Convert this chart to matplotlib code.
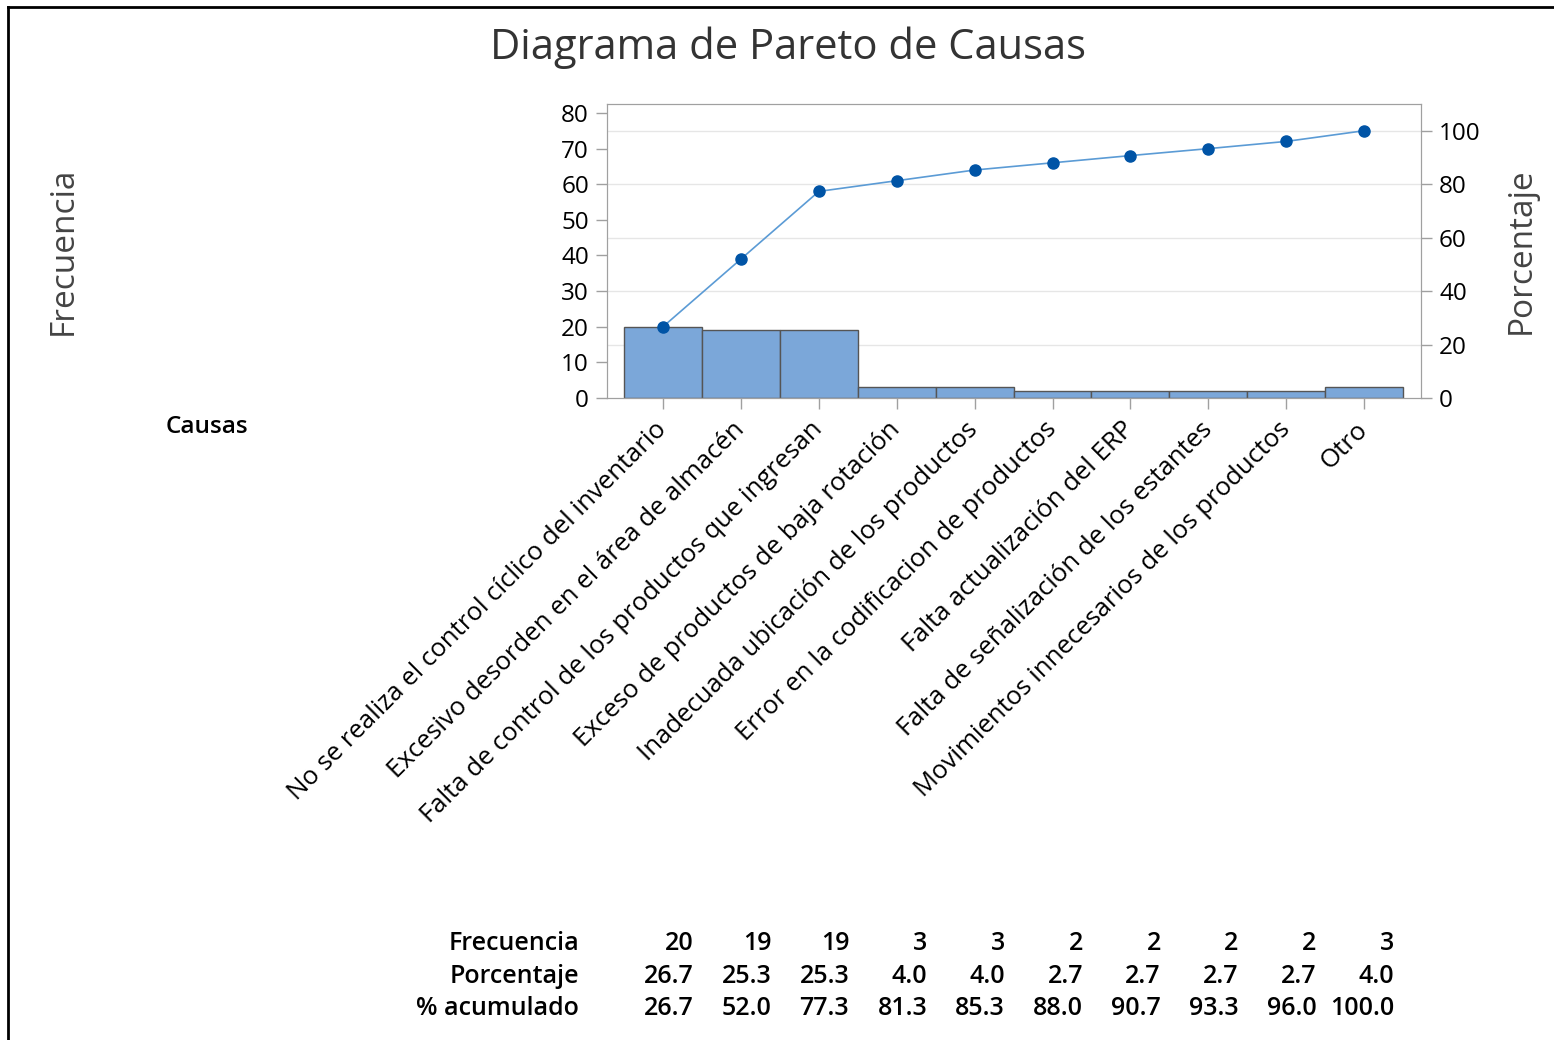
import matplotlib
matplotlib.use("Agg")
import matplotlib.pyplot as plt
from matplotlib.lines import Line2D
import matplotlib.transforms as mtransforms

plt.rcParams['font.family'] = ['Open Sans', 'DejaVu Sans']

causas = [
    "No se realiza el control cíclico del inventario",
    "Excesivo desorden en el área de almacén",
    "Falta de control de los productos que ingresan",
    "Exceso de productos de baja rotación",
    "Inadecuada ubicación de los productos",
    "Error en la codificacion de productos",
    "Falta actualización del ERP",
    "Falta de señalización de los estantes",
    "Movimientos innecesarios de los productos",
    "Otro",
]
frecuencia = [20, 19, 19, 3, 3, 2, 2, 2, 2, 3]
porcentaje = [26.7, 25.3, 25.3, 4.0, 4.0, 2.7, 2.7, 2.7, 2.7, 4.0]
acumulado = [26.7, 52.0, 77.3, 81.3, 85.3, 88.0, 90.7, 93.3, 96.0, 100.0]
pct_ticks = [0, 20, 40, 60, 80, 100]
freq_ticks = [0, 10, 20, 30, 40, 50, 60, 70, 80]

total = sum(frecuencia)
x = list(range(len(causas)))
gris = "#333333"

fig = plt.figure(figsize=(15.54, 10.40), dpi=100)
ax = fig.add_axes([0.3906, 0.6173, 0.5238, 0.2827])
ax2 = ax.twinx()

# gridlines follow the percentage scale, drawn behind the bars
for t in pct_ticks[1:]:
    ax.axhline(t * total / 100, color="#e6e6e6", lw=1, zorder=0)

ax.bar(x, frecuencia, width=1.0, color="#7ba7d9", edgecolor="#555555",
       linewidth=1, zorder=2)
ax2.plot(x, acumulado, color="#5b9bd5", lw=1.2, marker="o", markersize=8,
         markerfacecolor="#0054a6", markeredgecolor="#0054a6", zorder=3)

ax.set_xlim(-0.72, len(causas) - 1 + 0.73)
ax.set_ylim(0, total * 1.1)
ax2.set_ylim(0, 110)
ax.set_yticks(freq_ticks)
ax2.set_yticks(pct_ticks)
ax.set_xticks(x)
ax.set_xticklabels(causas, rotation=45, ha="right", va="center",
                   rotation_mode="anchor", fontsize=18.5, color="black")
# nudge the slanted labels a little to the right of their ticks
shift = mtransforms.ScaledTranslation(11 / 100, 2 / 100, fig.dpi_scale_trans)
for lbl in ax.get_xticklabels():
    lbl.set_transform(lbl.get_transform() + shift)

for a in (ax, ax2):
    for s in a.spines.values():
        s.set_color("#a0a0a0")
    a.tick_params(colors="#a0a0a0", labelcolor="black", labelsize=17.5,
                  length=8, width=1, pad=5)
ax.tick_params(axis="x", pad=12, labelsize=18.5)

fig.text(0.507, 0.954, "Diagrama de Pareto de Causas", ha="center",
         va="center", fontsize=30, color=gris, fontweight="medium")
fig.text(0.0405, 0.759, "Frecuencia", rotation=90, ha="center",
         va="center", fontsize=24, color="#444444")
fig.text(0.979, 0.759, "Porcentaje", rotation=90, ha="center",
         va="center", fontsize=24, color="#444444")
fig.text(0.133, 0.589, "Causas", ha="center", va="center", fontsize=17.5,
         fontweight="semibold", color="black")

# summary table under the chart
filas = [("Frecuencia", [str(v) for v in frecuencia]),
         ("Porcentaje", [f"{v:.1f}" for v in porcentaje]),
         ("% acumulado", [f"{v:.1f}" for v in acumulado])]
fila_y = [0.093, 0.0615, 0.0305]
trans = mtransforms.blended_transform_factory(ax.transData, fig.transFigure)
for (nombre, vals), yy in zip(filas, fila_y):
    fig.text(0.3726, yy, nombre, ha="right", va="center", fontsize=18,
             fontweight="semibold", color="black")
    for xi, v in zip(x, vals):
        ax.text(xi + 0.39, yy, v, transform=trans, ha="right", va="center",
                fontsize=18, fontweight="semibold", color="black",
                clip_on=False)

# frame along the top and left edges
fig.add_artist(Line2D([0.0052, 1], [0.9935, 0.9935], color="black", lw=2,
                      transform=fig.transFigure))
fig.add_artist(Line2D([0.0052, 0.0052], [0, 0.9935], color="black", lw=2,
                      transform=fig.transFigure))

fig.savefig("out.png", dpi=100, facecolor="white")
